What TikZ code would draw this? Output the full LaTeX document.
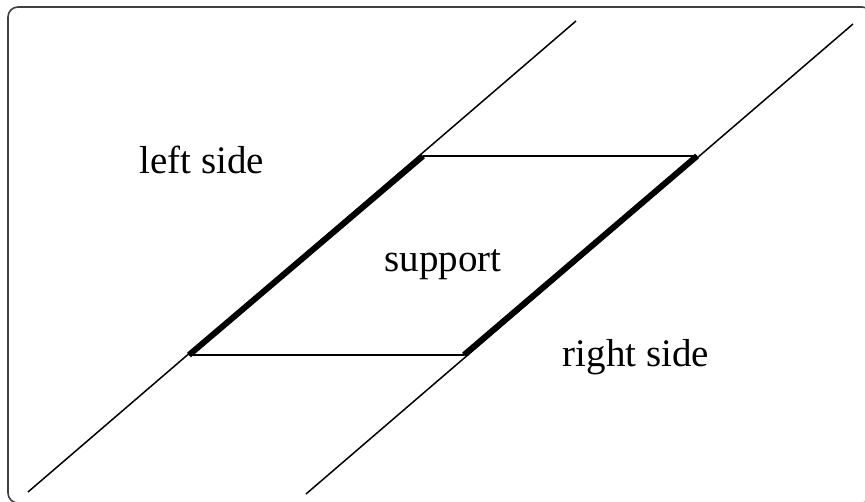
\documentclass[tikz,border=0pt]{standalone}
\usepackage{fontspec}
\setmainfont{Liberation Serif}
\begin{document}
\begin{tikzpicture}[x=1pt,y=-1pt,
  thin line/.style={line width=1.5pt,black},
  thick line/.style={line width=6pt,black},
  lbl/.style={font=\fontsize{39}{42}\selectfont,inner sep=0pt}]
\useasboundingbox (0,0) rectangle (865,502);
\draw[line width=1.6pt,black!75,rounded corners=10pt] (8,7) rectangle (872,503);
% parallel lines
\coordinate (a1) at (28,492);
\coordinate (a2) at (576,21);
\coordinate (b1) at (306,494);
\coordinate (b2) at (853,24);
\coordinate (p1) at (189,355);
\coordinate (p2) at (423,156);
\coordinate (q1) at (464,355);
\coordinate (q2) at (697,156);
\draw[thin line] (a1) -- (a2);
\draw[thin line] (b1) -- (b2);
\draw[thick line] (p1) -- (p2);
\draw[thick line] (q1) -- (q2);
\draw[thin line] (p2) -- (q2);
\draw[thin line] (p1) -- (q1);
\node[lbl] (ls) at (202,160) {left side};
\node[lbl] (sp) at (443,265) {support};
\node[lbl] (rs) at (636,357) {right side};
\end{tikzpicture}
\end{document}
